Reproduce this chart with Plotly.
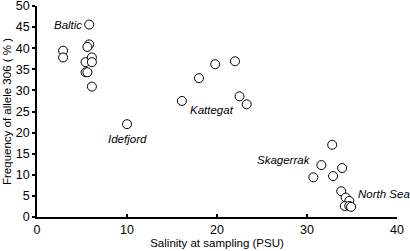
import plotly.graph_objects as go

salinity = [5.8, 2.9, 2.9, 5.8, 5.6, 5.4, 6.1, 6.1, 5.4, 5.6, 6.1,
            10.0,
            19.8, 22.0, 18.0, 16.1, 22.5, 23.3,
            32.8, 31.6, 33.9, 30.7, 32.9,
            33.8, 34.3, 34.7, 34.2, 34.7, 34.9]
freq = [45.6, 39.4, 37.8, 40.9, 40.3, 36.7, 37.8, 36.7, 34.3, 34.3, 30.9,
        22.0,
        36.2, 36.9, 32.9, 27.5, 28.6, 26.7,
        17.1, 12.3, 11.6, 9.4, 9.7,
        6.1, 4.6, 3.8, 2.6, 2.6, 2.4]

region_labels = ["Baltic", "Idefjord", "Kattegat", "Skagerrak", "North Sea"]
label_x = [3.4, 10.0, 19.4, 27.4, 38.5]
label_y = [45.5, 18.4, 25.4, 13.4, 5.4]

x_ticks = [0, 10, 20, 30, 40]
y_ticks = [0, 5, 10, 15, 20, 25, 30, 35, 40, 45, 50]

fig = go.Figure()
fig.add_trace(go.Scatter(
    x=salinity, y=freq, mode="markers",
    marker=dict(symbol="circle", size=9, color="white",
                line=dict(color="black", width=1)),
    showlegend=False, cliponaxis=False,
))

for t, xx, yy in zip(region_labels, label_x, label_y):
    fig.add_annotation(x=xx, y=yy, text="<i>" + t + "</i>", showarrow=False,
                       font=dict(family="Liberation Sans, Arial", size=11.5, color="black"))

fig.update_layout(
    width=410, height=251,
    margin=dict(l=37, r=13, t=6, b=34, autoexpand=False),
    paper_bgcolor="white", plot_bgcolor="white",
    font=dict(family="Liberation Sans, Arial", color="black"),
)
fig.update_xaxes(
    range=[0, 40], tickvals=x_ticks, ticktext=[str(v) for v in x_ticks],
    showline=True, linecolor="black", linewidth=1.8, showgrid=False, zeroline=False,
    ticks="inside", tickwidth=1.5, ticklen=3, tickcolor="black",
    tickfont=dict(size=12.5), automargin=False, ticklabeloverflow="allow",
    title=dict(text="Salinity at sampling (PSU)", font=dict(size=11.5), standoff=2),
)
fig.update_yaxes(
    range=[0, 50], tickvals=y_ticks, ticktext=[str(v) for v in y_ticks],
    showline=True, linecolor="black", linewidth=1.8, showgrid=False, zeroline=False,
    ticks="outside", tickwidth=1.5, ticklen=3, tickcolor="black",
    tickfont=dict(size=12.5), automargin=False, ticklabeloverflow="allow",
    title=dict(text="Frequency of allele 306 ( % )", font=dict(size=11.5), standoff=2),
)

fig.write_html("out.html", config={"displayModeBar": False},
               post_script="document.body.style.margin='0';")
